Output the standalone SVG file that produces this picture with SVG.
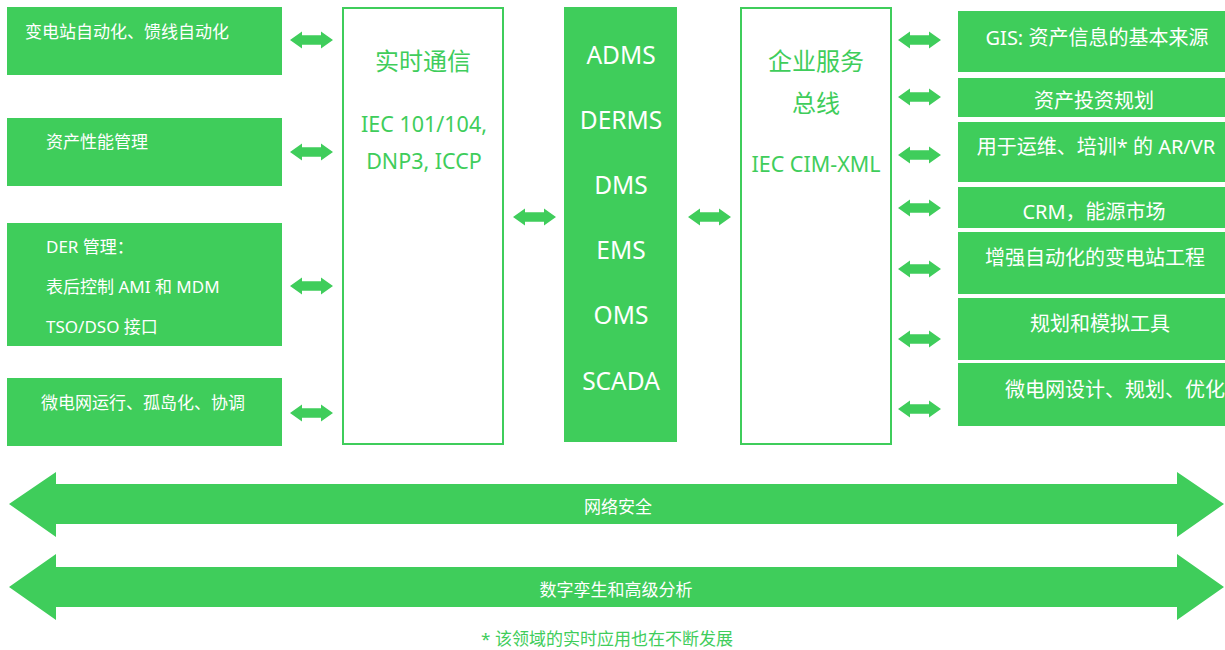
<svg xmlns="http://www.w3.org/2000/svg" xmlns:xlink="http://www.w3.org/1999/xlink" width="1225" height="650" viewBox="0 0 1225 650">
<style>
text{font-family:"Noto Sans","Noto Sans CJK SC",sans-serif;}
.box{fill:#3fcd5b;}
.frame{fill:#ffffff;stroke:#3fcd5b;stroke-width:2;}
.w17{fill:#ffffff;font-size:17px;}
.w20{fill:#ffffff;font-size:20px;text-anchor:middle;}
.mid{fill:#ffffff;font-size:24.5px;text-anchor:middle;}
.g24{fill:#3fcd5b;font-size:24px;text-anchor:middle;}
.g21{fill:#3fcd5b;font-size:21.5px;text-anchor:middle;}
.big{fill:#ffffff;font-size:17px;text-anchor:middle;}
.foot{fill:#3fcd5b;font-size:17px;text-anchor:middle;}
.arr{fill:#3fcd5b;}
</style>
<defs>
<path id="dbl" d="M0,0 L12,-8.5 L12,-4.8 L31,-4.8 L31,-8.5 L43,0 L31,8.5 L31,4.8 L12,4.8 L12,8.5 Z"/>
</defs>
<rect width="1225" height="650" fill="#ffffff"/>

<g id="left-substation">
<rect class="box" x="7" y="7" width="275" height="68"/>
<text class="w17" x="25" y="38">变电站自动化、馈线自动化</text>
</g>
<g id="left-asset">
<rect class="box" x="7" y="118" width="275" height="68"/>
<text class="w17" x="46" y="148">资产性能管理</text>
</g>
<g id="left-der">
<rect class="box" x="7" y="223" width="275" height="123"/>
<text class="w17" x="46" y="253">DER 管理：</text>
<text class="w17" x="46" y="293">表后控制 AMI 和 MDM</text>
<text class="w17" x="46" y="333">TSO/DSO 接口</text>
</g>
<g id="left-microgrid">
<rect class="box" x="7" y="378" width="275" height="68"/>
<text class="w17" x="41" y="409">微电网运行、孤岛化、协调</text>
</g>

<g id="realtime-comm">
<rect class="frame" x="343" y="8" width="160" height="436"/>
<text class="g24" x="423" y="70">实时通信</text>
<text class="g21" x="424" y="132">IEC 101/104,</text>
<text class="g21" x="424" y="169">DNP3, ICCP</text>
</g>

<g id="core-systems">
<rect class="box" x="564" y="7" width="113" height="435"/>
<text class="mid" x="621" y="64">ADMS</text>
<text class="mid" x="621" y="129">DERMS</text>
<text class="mid" x="621" y="194">DMS</text>
<text class="mid" x="621" y="259">EMS</text>
<text class="mid" x="621" y="324">OMS</text>
<text class="mid" x="621" y="390">SCADA</text>
</g>

<g id="enterprise-bus">
<rect class="frame" x="741" y="8" width="150" height="436"/>
<text class="g24" x="816" y="70">企业服务</text>
<text class="g24" x="816" y="112">总线</text>
<text class="g21" x="816" y="172">IEC CIM-XML</text>
</g>

<g id="right-gis">
<rect class="box" x="958" y="11" width="267" height="61"/>
<text class="w20" x="1097" y="45">GIS: 资产信息的基本来源</text>
</g>
<g id="right-invest">
<rect class="box" x="958" y="78" width="267" height="39"/>
<text class="w20" x="1094" y="108">资产投资规划</text>
</g>
<g id="right-arvr">
<rect class="box" x="958" y="122" width="267" height="60"/>
<text class="w20" x="1096" y="154">用于运维、培训* 的 AR/VR</text>
</g>
<g id="right-crm">
<rect class="box" x="958" y="187" width="267" height="41"/>
<text class="w20" x="1094" y="219">CRM，能源市场</text>
</g>
<g id="right-substation">
<rect class="box" x="958" y="232" width="267" height="62"/>
<text class="w20" x="1095" y="265">增强自动化的变电站工程</text>
</g>
<g id="right-planning">
<rect class="box" x="958" y="298" width="267" height="62"/>
<text class="w20" x="1100" y="331">规划和模拟工具</text>
</g>
<g id="right-microgrid">
<rect class="box" x="958" y="363" width="267" height="63"/>
<text class="w20" x="1005" y="397" style="text-anchor:start">微电网设计、规划、优化</text>
</g>

<g id="connectors" class="arr">
<use xlink:href="#dbl" x="290" y="40"/>
<use xlink:href="#dbl" x="290" y="152"/>
<use xlink:href="#dbl" x="290" y="286"/>
<use xlink:href="#dbl" x="290" y="413"/>
<use xlink:href="#dbl" x="513" y="217"/>
<use xlink:href="#dbl" x="688" y="217"/>
<use xlink:href="#dbl" x="898" y="40"/>
<use xlink:href="#dbl" x="898" y="97"/>
<use xlink:href="#dbl" x="898" y="155"/>
<use xlink:href="#dbl" x="898" y="208"/>
<use xlink:href="#dbl" x="898" y="269"/>
<use xlink:href="#dbl" x="898" y="339"/>
<use xlink:href="#dbl" x="898" y="409"/>
</g>

<g id="cybersecurity">
<polygon class="arr" points="9,504 56,472 56,484 1177,484 1177,472 1224,504 1177,537 1177,524 56,524 56,537"/>
<text class="big" x="618" y="513">网络安全</text>
</g>
<g id="digital-twin">
<polygon class="arr" points="9,587 56,554 56,567 1177,567 1177,554 1224,587 1177,620 1177,607 56,607 56,620"/>
<text class="big" x="616" y="596">数字孪生和高级分析</text>
</g>

<text class="foot" x="607" y="645">* 该领域的实时应用也在不断发展</text>
</svg>
